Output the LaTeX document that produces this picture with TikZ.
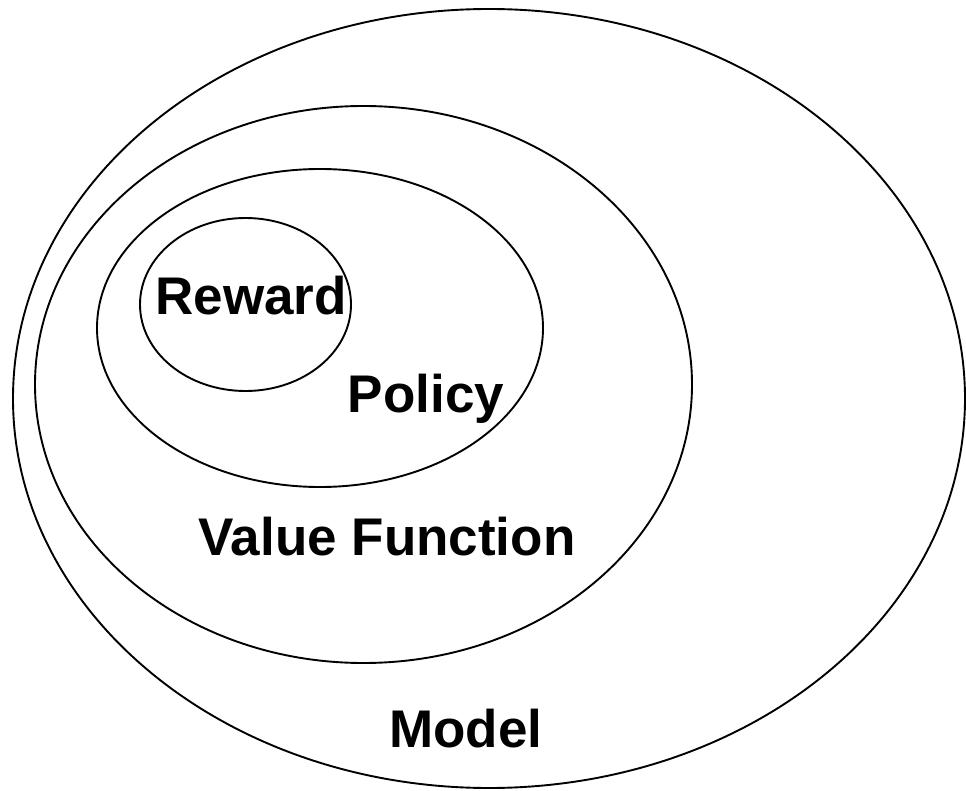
\documentclass[tikz,border=0pt]{standalone}
\usepackage{fontspec}
\setmainfont{Liberation Sans}
\begin{document}
\begin{tikzpicture}[x=1pt,y=-1pt,
  ring/.style={draw=black,line width=1.9pt},
  lbl/.style={font=\bfseries\fontsize{53}{60}\selectfont,inner sep=0pt,anchor=base}]
\useasboundingbox[fill=white] (0,0) rectangle (966,791);
\draw[ring] (489,398.5) ellipse [x radius=476, y radius=389.5];
\draw[ring] (363.5,384.5) ellipse [x radius=328.5, y radius=278.5];
\draw[ring] (320,328) ellipse [x radius=223, y radius=159];
\draw[ring] (245.5,304.5) ellipse [x radius=105.5, y radius=86.5];
\node[lbl] (reward) at (251,315) {Reward};
\node[lbl] (policy) at (426,412) {Policy};
\node[lbl] (value) at (387,555) {Value Function};
\node[lbl] (model) at (466,747) {Model};
\end{tikzpicture}
\end{document}
